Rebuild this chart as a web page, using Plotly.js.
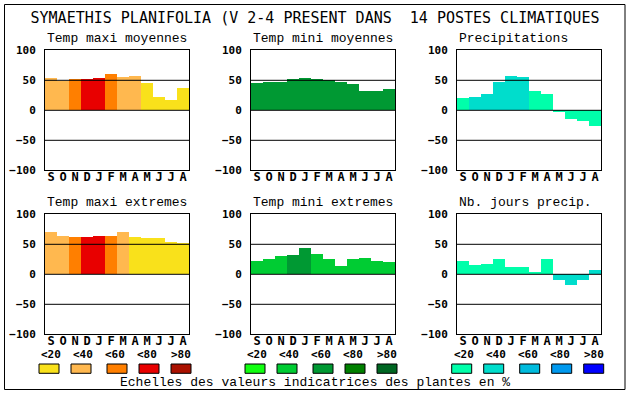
<!DOCTYPE html>
<html>
<head>
<meta charset="utf-8">
<script src="https://cdn.plot.ly/plotly-3.0.1.min.js"></script>
<style>html,body{margin:0;padding:0;background:#fff;}#chart{width:630px;height:394px;}</style>
</head>
<body>
<div id="chart"></div>
<script>
// ---- data ----
const months = ['S','O','N','D','J','F','M','A','M','J','J','A'];
const yTicks = [-100, -50, 0, 50, 100];
const scaleLabels = ['<20','<40','<60','<80','>80'];

const tempMaxiMoy      = [54, 49, 52, 52, 54, 60, 55, 57, 45, 22, 17, 37];
const tempMaxiMoyClass = [1, 1, 2, 3, 3, 2, 1, 1, 0, 0, 0, 0];
const tempMiniMoy      = [45, 47, 47, 52, 54, 52, 50, 47, 44, 32, 32, 35];
const tempMiniMoyClass = [2, 2, 2, 2, 2, 2, 2, 2, 2, 2, 2, 2];
const precip           = [20, 22, 27, 47, 57, 55, 32, 27, -3, -14, -18, -26];
const precipClass      = [0, 1, 1, 1, 1, 1, 0, 0, 0, 0, 0, 0];
const tempMaxiExt      = [70, 64, 62, 62, 64, 64, 70, 62, 60, 60, 54, 52];
const tempMaxiExtClass = [1, 1, 2, 3, 3, 2, 1, 0, 0, 0, 0, 0];
const tempMiniExt      = [22, 25, 30, 32, 44, 34, 25, 14, 25, 27, 22, 20];
const tempMiniExtClass = [1, 1, 1, 2, 2, 1, 1, 1, 1, 1, 1, 1];
const joursPrecip      = [22, 15, 17, 25, 12, 12, 4, 25, -10, -17, -10, 7];
const joursPrecipClass = [0, 0, 0, 0, 0, 0, 0, 0, 1, 1, 1, 1];

const tempPalette  = ['#F9E11B', '#FFB84F', '#FF7F00', '#E80000', '#AA1100'];
const greenPalette = ['#11FF11', '#00CC33', '#009933', '#008000', '#006622'];
const waterPalette = ['#00FFAA', '#00DDCC', '#00BBDD', '#0099EE', '#0000FF'];

const mainTitle = 'SYMAETHIS PLANIFOLIA (V 2-4 PRESENT DANS\u00a0 14 POSTES CLIMATIQUES';
const footer = 'Echelles des valeurs indicatrices des plantes en %';

const panels = [
  {title: 'Temp maxi moyennes', values: tempMaxiMoy, cls: tempMaxiMoyClass, pal: tempPalette, col: 0, row: 0},
  {title: 'Temp mini moyennes', values: tempMiniMoy, cls: tempMiniMoyClass, pal: greenPalette, col: 1, row: 0},
  {title: 'Precipitations', values: precip, cls: precipClass, pal: waterPalette, col: 2, row: 0},
  {title: 'Temp maxi extremes', values: tempMaxiExt, cls: tempMaxiExtClass, pal: tempPalette, col: 0, row: 1},
  {title: 'Temp mini extremes', values: tempMiniExt, cls: tempMiniExtClass, pal: greenPalette, col: 1, row: 1},
  {title: 'Nb. jours precip.', values: joursPrecip, cls: joursPrecipClass, pal: waterPalette, col: 2, row: 1}
];
const legendGroups = [tempPalette, greenPalette, waterPalette];

// ---- layout geometry (pixels) ----
const W = 630, H = 394;
const colLeft = [45, 251, 457];
const plotW = 144;
const rowTop = [50.3, 214.3];
const plotH = 120;
const px = v => v / W;
const py = v => 1 - v / H;

const mono = 'DejaVu Sans Mono, Liberation Mono, monospace';
const thin = 'Liberation Mono, DejaVu Sans Mono, monospace';

const traces = [];
const layout = {
  width: W, height: H,
  margin: {l: 0, r: 0, t: 0, b: 0, pad: 0},
  paper_bgcolor: '#ffffff', plot_bgcolor: '#ffffff',
  showlegend: false, bargap: 0,
  font: {family: mono, color: '#000000'},
  title: {text: mainTitle, font: {family: mono, size: 15, color: '#000'}, x: 0.5, xanchor: 'center', xref: 'paper', y: py(17.7), yanchor: 'middle', yref: 'paper'},
  shapes: [], annotations: []
};

const idx = months.map((m, i) => i);

panels.forEach((p, k) => {
  const n = k === 0 ? '' : String(k + 1);
  const xa = 'xaxis' + n, ya = 'yaxis' + n;
  const x0 = colLeft[p.col], y0 = rowTop[p.row];
  traces.push({
    type: 'bar', x: idx, y: p.values, width: 1,
    xaxis: 'x' + n, yaxis: 'y' + n,
    marker: {color: p.cls.map(c => p.pal[c]), line: {width: 0}},
    hoverinfo: 'skip'
  });
  layout[xa] = {
    domain: [px(x0), px(x0 + plotW)], anchor: 'y' + n,
    range: [-0.5, 11.5], tickmode: 'array', tickvals: idx, ticktext: months,
    tickfont: {family: mono, size: 12, weight: 'bold', color: '#000'},
    ticks: '', ticklabelstandoff: -5,
    showgrid: false, zeroline: false,
    showline: true, mirror: true, linecolor: '#000', linewidth: 1, fixedrange: true
  };
  layout[ya] = {
    domain: [py(y0 + plotH), py(y0)], anchor: 'x' + n,
    range: [-100, 100], tickmode: 'array', tickvals: yTicks,
    tickfont: {family: mono, size: 11, weight: 'bold', color: '#000'},
    ticks: '', ticklabelstandoff: 6,
    showgrid: false, zeroline: false,
    showline: true, mirror: true, linecolor: '#000', linewidth: 1, fixedrange: true
  };
  [50, 0, -50].forEach(v => {
    layout.shapes.push({type: 'line', layer: 'above', xref: 'x' + n + ' domain', x0: 0, x1: 1, yref: 'y' + n, y0: v, y1: v, line: {color: '#000', width: 1}});
  });
  layout.annotations.push({
    text: p.title, showarrow: false, xref: 'x' + n + ' domain', x: 0, xanchor: 'left',
    yref: 'paper', y: py(y0 - 12), yanchor: 'middle',
    font: {family: thin, size: 13, color: '#000'}
  });
});

// scale legend (indicator value keys)
const groupLeft = [39, 245, 451.7];
const boxOffsets = [0, 32, 68, 100, 132];
const labelOffsets = [0, 32, 64, 96, 130];
legendGroups.forEach((pal, g) => {
  pal.forEach((c, i) => {
    const bx = groupLeft[g] + boxOffsets[i];
    layout.shapes.push({type: 'rect', xref: 'paper', yref: 'paper',
      x0: px(bx), x1: px(bx + 20), y0: py(373.3), y1: py(364),
      fillcolor: c, line: {color: '#000', width: 1}});
    layout.annotations.push({text: scaleLabels[i], showarrow: false,
      xref: 'paper', yref: 'paper', x: px(groupLeft[g] + labelOffsets[i]), xanchor: 'left',
      y: py(354.5), yanchor: 'middle',
      font: {family: mono, size: 11, weight: 'bold', color: '#000'}});
  });
});

layout.annotations.push({text: footer, showarrow: false, xref: 'paper', yref: 'paper',
  x: px(315), xanchor: 'center', y: py(382.5), yanchor: 'middle',
  font: {family: thin, size: 13, color: '#000'}});

// outer frame
layout.shapes.push({type: 'rect', xref: 'paper', yref: 'paper', x0: px(4.5), x1: px(625), y0: py(389.5), y1: py(4.5),
  line: {color: '#000', width: 1}, fillcolor: 'rgba(0,0,0,0)'});

Plotly.newPlot('chart', traces, layout, {staticPlot: true, displayModeBar: false});
</script>
</body>
</html>
